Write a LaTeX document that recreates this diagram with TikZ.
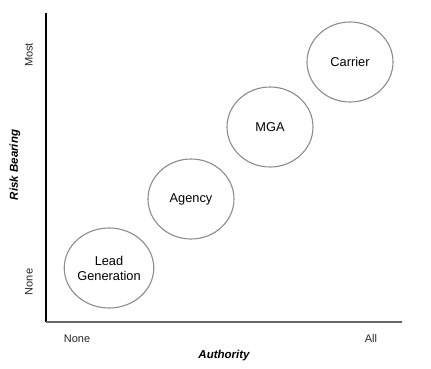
\documentclass[tikz,border=0pt]{standalone}
\usepackage{fontspec}
\setmainfont{Liberation Sans}
\usetikzlibrary{shapes.geometric}
\begin{document}
\begin{tikzpicture}[
  x=1pt, y=-1pt,
  stagenode/.style={ellipse, draw=black!45, line width=1.1pt, minimum width=86pt, minimum height=80pt, inner sep=0pt, align=center, font={\fontsize{12.8}{15}\selectfont}},
  ticklbl/.style={font={\fontsize{11}{13}\selectfont}, text=black!85},
  axislbl/.style={font={\fontsize{11.5}{13}\selectfont\bfseries\itshape}},
  axisline/.style={line width=1.2pt}
]
\useasboundingbox (0,0) rectangle (431,369);
\coordinate (orig) at (46,322);
\coordinate (ytop) at (46,13);
\coordinate (xend) at (402,322);
\draw[axisline, draw=black] (orig) -- (ytop);
\draw[axisline, draw=black!60, line width=2pt] (orig) -- (xend);
\node[stagenode] (lead) at (109,268) {Lead\\Generation};
\node[stagenode] (agency) at (191,199) {Agency};
\node[stagenode] (mga) at (270,127) {MGA};
\node[stagenode] (carrier) at (350,62) {Carrier};
\node[ticklbl, rotate=90] (ymost) at (29,55) {Most};
\node[ticklbl, rotate=90] (ynone) at (29,282) {None};
\node[axislbl, rotate=90] (ylbl) at (15,165) {Risk Bearing};
\node[ticklbl] (xnone) at (77,339) {None};
\node[ticklbl] (xall) at (371,339) {All};
\node[axislbl] (xlbl) at (224,356) {Authority};
\end{tikzpicture}
\end{document}
